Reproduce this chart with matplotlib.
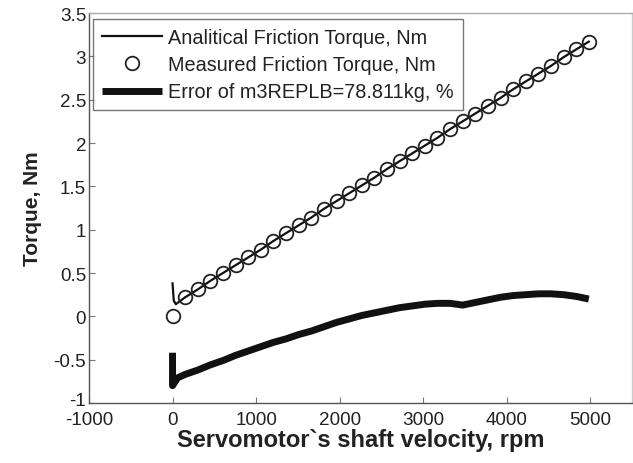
import matplotlib
matplotlib.use("Agg")
import matplotlib.pyplot as plt
from matplotlib.transforms import ScaledTranslation

plt.rcParams['font.family'] = ['Liberation Sans', 'DejaVu Sans']
plt.rcParams['axes.unicode_minus'] = False

# Measured points (rpm, Nm)
speed_meas = [0, 151, 302, 453, 604, 755, 906, 1057, 1208, 1359, 1510, 1661,
              1812, 1963, 2114, 2265, 2416, 2567, 2718, 2869, 3020, 3171,
              3322, 3473, 3624, 3775, 3926, 4077, 4228, 4379, 4530, 4681,
              4832, 4983]
torque_meas = [0.00, 0.22, 0.31, 0.41, 0.50, 0.59, 0.68, 0.77, 0.87, 0.96,
               1.05, 1.14, 1.24, 1.33, 1.42, 1.51, 1.60, 1.70, 1.79, 1.88,
               1.97, 2.06, 2.16, 2.25, 2.34, 2.43, 2.52, 2.62, 2.71, 2.80,
               2.89, 2.99, 3.08, 3.17]

# Analytical model (low-speed branch followed by the measured grid)
speed_model = [0, 15, 40, 80] + speed_meas[1:]
torque_model = [0.38, 0.18, 0.14, 0.17] + torque_meas[1:]

# Relative error curve
speed_err = [0, 0, 60] + speed_meas[1:]
error_pct = [-0.42, -0.80, -0.71,
             -0.67, -0.62, -0.56, -0.51, -0.45, -0.40, -0.35, -0.30, -0.26,
             -0.21, -0.17, -0.12, -0.07, -0.03, 0.01, 0.04, 0.07, 0.10, 0.12,
             0.14, 0.15, 0.15, 0.13, 0.16, 0.19, 0.22, 0.24, 0.25, 0.26,
             0.26, 0.25, 0.23, 0.20]

x_ticks = [-1000, 0, 1000, 2000, 3000, 4000, 5000]
y_ticks = [-1, -0.5, 0, 0.5, 1, 1.5, 2, 2.5, 3, 3.5]
y_ticklabels = ['-1', '-0.5', '0', '0.5', '1', '1.5', '2', '2.5', '3', '3.5']

fig = plt.figure(figsize=(6.33, 4.64), dpi=100)
ax = fig.add_axes([0.1406, 0.1293, 0.8578, 0.8405])

ax.plot(speed_model, torque_model, color='#111111', lw=1.6,
        label='Analitical Friction Torque, Nm')
ax.plot(speed_meas, torque_meas, ls='none', marker='o', ms=9.8,
        mfc='none', mec='#222222', mew=1.3,
        label='Measured Friction Torque, Nm')
ax.plot(speed_err, error_pct, color='#111111', lw=5.0,
        solid_joinstyle='round', solid_capstyle='butt',
        label='Error of m3REPLB=78.811kg, %')

ax.set_xlim(-1000, 5500)
ax.set_ylim(-1, 3.5)
ax.set_xticks(x_ticks)
ax.set_yticks(y_ticks)
ax.set_yticklabels(y_ticklabels)

for s in ax.spines.values():
    s.set_color('#555555')
    s.set_linewidth(1.0)
ax.spines['top'].set_color('#aaaaaa')
ax.spines['right'].set_color('#cccccc')
ax.tick_params(direction='in', length=4, width=0.8, color='#777777',
               labelsize=13.6, labelcolor='#222222', top=False, right=False)
ax.tick_params(axis='x', pad=6)
ax.tick_params(axis='y', pad=2)

# lift the lowest y label a little so it clears the first x label
low_label = ax.yaxis.get_major_ticks()[0].label1
low_label.set_transform(low_label.get_transform()
                        + ScaledTranslation(0, 3 / 72, fig.dpi_scale_trans))

ax.set_xlabel('Servomotor`s shaft velocity, rpm', fontsize=17,
              fontweight='bold', color='#222222', labelpad=0)
ax.set_ylabel('Torque, Nm', fontsize=15, fontweight='bold',
              color='#222222', labelpad=8)

leg = ax.legend(loc='upper left', bbox_to_anchor=(0.0074, 0.985),
                fontsize=14.3, frameon=True, fancybox=False,
                handlelength=3.0, handletextpad=0.35, labelspacing=0.42,
                borderpad=0.45, borderaxespad=0.0)
leg.get_frame().set_edgecolor('#555555')
leg.get_frame().set_linewidth(1.0)
for t in leg.get_texts():
    t.set_color('#222222')

fig.savefig('out.png', dpi=100)
